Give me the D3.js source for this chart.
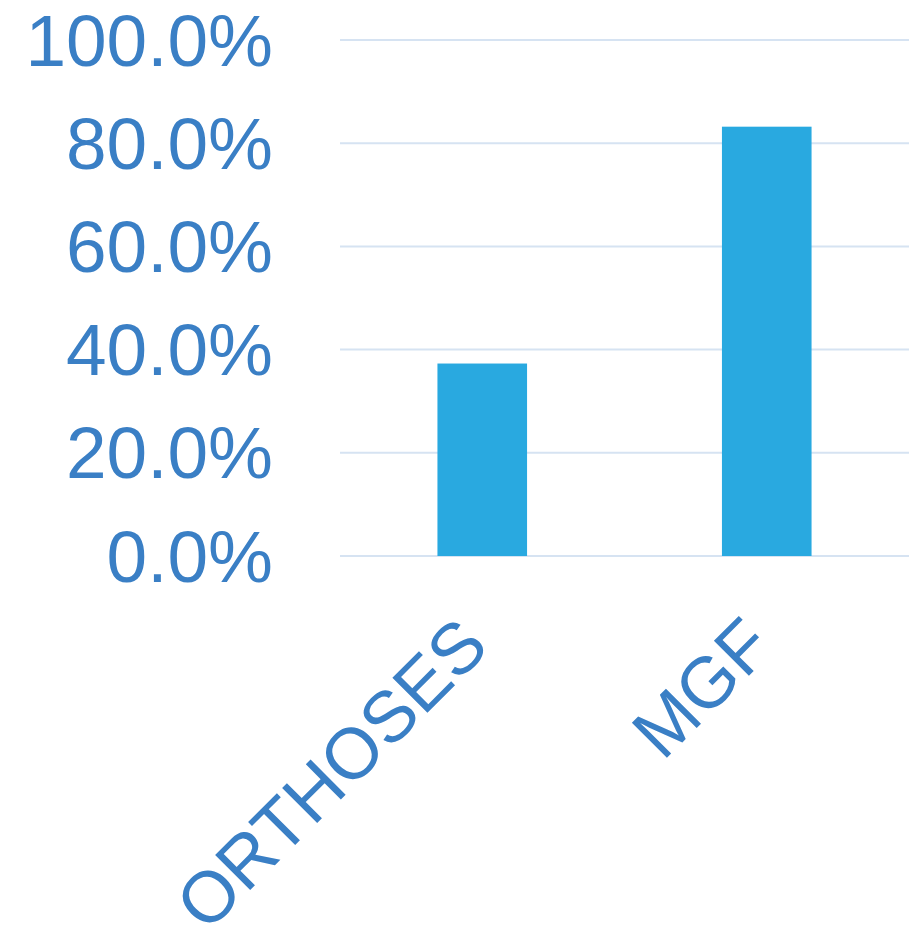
<!DOCTYPE html>
<html>
<head>
<meta charset="utf-8">
<script src="https://cdn.jsdelivr.net/npm/d3@7"></script>
<style>
  html, body { margin: 0; padding: 0; background: #ffffff; }
  svg { display: block; }
</style>
</head>
<body>
<svg id="chart" width="923" height="933"></svg>
<script>
// Share of each group (fraction of 1)
const categories = ["ORTHOSES", "MGF"];
const values = [0.373, 0.832];
const yTicks = [0, 0.2, 0.4, 0.6, 0.8, 1.0];

const svg = d3.select("#chart");
const plot = { left: 340, right: 909, top: 40, bottom: 556 };

const x = d3.scaleBand()
  .domain(categories)
  .range([plot.left, plot.right])
  .paddingInner(0.685)
  .paddingOuter(0.3425);

const y = d3.scaleLinear()
  .domain([0, 1])
  .range([plot.bottom, plot.top]);

const textColor = "#3A7FC5";
const fmt = d3.format(".1%");

// horizontal gridlines
svg.append("g")
  .selectAll("line")
  .data(yTicks)
  .join("line")
  .attr("x1", plot.left)
  .attr("x2", plot.right)
  .attr("y1", d => y(d))
  .attr("y2", d => y(d))
  .attr("stroke", "#D6E3F2")
  .attr("stroke-width", 2);

// y-axis labels
svg.append("g")
  .selectAll("text")
  .data(yTicks)
  .join("text")
  .attr("x", 273)
  .attr("y", d => y(d))
  .attr("dy", "0.35em")
  .attr("text-anchor", "end")
  .attr("font-family", "Liberation Sans, Arial, sans-serif")
  .attr("font-size", 73)
  .attr("fill", textColor)
  .text(d => fmt(d));

// bars
svg.append("g")
  .selectAll("rect")
  .data(categories)
  .join("rect")
  .attr("x", d => x(d))
  .attr("width", x.bandwidth())
  .attr("y", (d, i) => y(values[i]))
  .attr("height", (d, i) => y(0) - y(values[i]))
  .attr("fill", "#29A9E0");

// rotated category labels
svg.append("g")
  .selectAll("text")
  .data(categories)
  .join("text")
  .attr("transform", d => `translate(${x(d) + x.bandwidth() / 2 + 9},649) rotate(-45)`)
  .attr("text-anchor", "end")
  .attr("font-family", "Liberation Sans, Arial, sans-serif")
  .attr("font-size", 72)
  .attr("fill", textColor)
  .text(d => d);
</script>
</body>
</html>
